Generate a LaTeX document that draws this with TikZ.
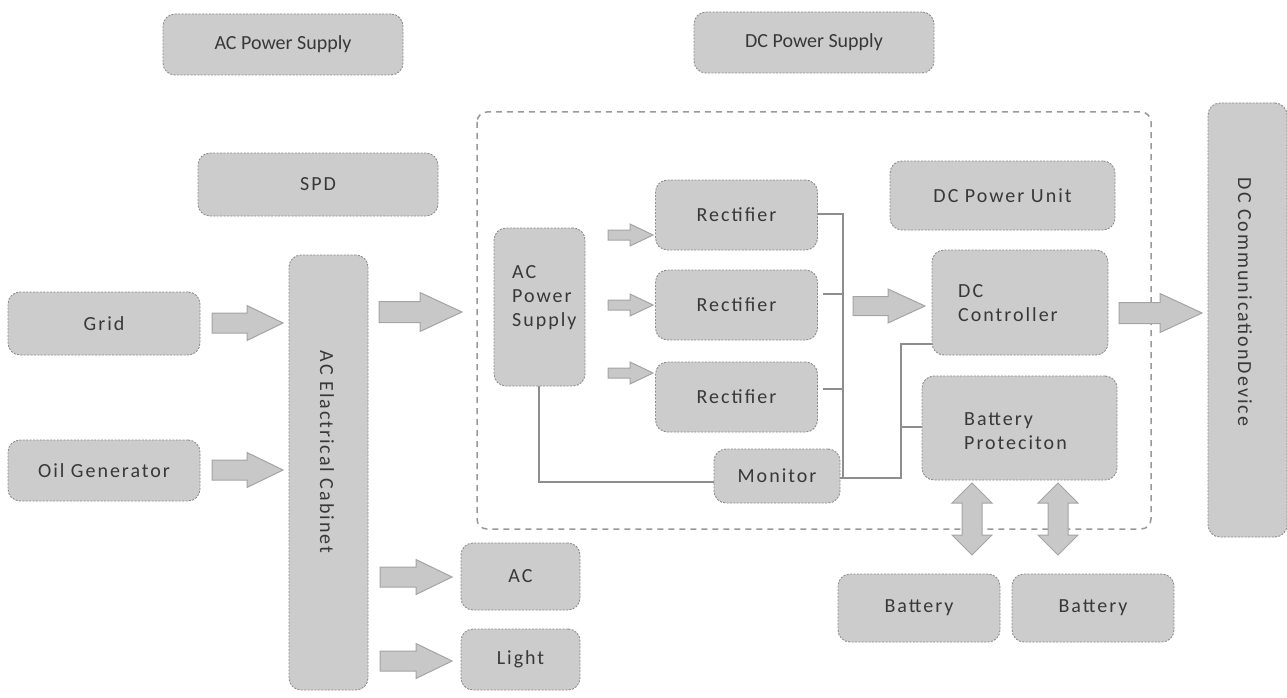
\documentclass[tikz,border=0pt]{standalone}
\usepackage{fontspec}
\setmainfont{Carlito}
\newfontfamily\spaced[LetterSpace=10]{Carlito}
\usetikzlibrary{calc}
\definecolor{boxfill}{HTML}{CCCCCC}
\definecolor{boxline}{HTML}{8C8C8C}
\definecolor{arrfill}{HTML}{C8C8C8}
\definecolor{arrline}{HTML}{A4A4A4}
\definecolor{txt}{HTML}{383838}
\definecolor{conncol}{HTML}{8E8E8E}
\definecolor{framecol}{HTML}{999999}
\tikzset{
  box/.style={rounded corners=12pt, fill=boxfill, draw=boxline, dash pattern=on 2pt off 1.4pt,
    line width=0.9pt, inner sep=0pt, text=txt, font=\spaced\fontsize{20}{24}\selectfont},
  tightbox/.style={box, font=\fontsize{20}{24}\selectfont},
  lbl/.style={inner sep=0pt, text=txt, font=\spaced\fontsize{20}{24}\selectfont},
  frame/.style={draw=framecol, line width=1.5pt, dash pattern=on 6pt off 5pt, rounded corners=10pt},
  conn/.style={draw=conncol, line width=1.3pt},
  blk/.style={fill=arrfill, draw=arrline, line width=1pt, line join=miter},
}
% horizontal block arrow: x1, x2, y, head length, shaft half width, head half width
\newcommand\harrow[6]{\draw[blk] (#1,{#3-#5}) -- ({#2-#4},{#3-#5}) -- ({#2-#4},{#3-#6}) -- (#2,#3)
  -- ({#2-#4},{#3+#6}) -- ({#2-#4},{#3+#5}) -- (#1,{#3+#5}) -- cycle;}
% vertical double block arrow: x, y1, y2, head length, shaft half width, head half width
\newcommand\vdarrow[6]{\draw[blk] (#1,#2) -- ({#1+#6},{#2+#4}) -- ({#1+#5},{#2+#4}) -- ({#1+#5},{#3-#4})
  -- ({#1+#6},{#3-#4}) -- (#1,#3) -- ({#1-#6},{#3-#4}) -- ({#1-#5},{#3-#4}) -- ({#1-#5},{#2+#4})
  -- ({#1-#6},{#2+#4}) -- cycle;}
\begin{document}
\begin{tikzpicture}[x=1pt,y=-1pt]
\useasboundingbox (0,0) rectangle (1287,698);
% dashed frame
\draw[frame] (477,112) rectangle (1151,529);
% boxes
\node[tightbox, minimum width=240pt, minimum height=61pt] (acpsT) at (283,44.5) {AC Power Supply};
\node[tightbox, minimum width=240pt, minimum height=61pt] (dcpsT) at (814,42.5) {DC Power Supply};
\node[box, minimum width=240pt, minimum height=63pt] (spd) at (318,184.5) {SPD};
\node[box, minimum width=192pt, minimum height=63pt] (grid) at (104,323.5) {Grid};
\node[box, minimum width=192pt, minimum height=61pt] (oil) at (104,470.5) {Oil Generator};
\node[box, minimum width=79pt, minimum height=435pt] (cab) at (328.5,472.5) {};
\node[lbl, rotate=-90] (cabT) at (327,452) {AC Elactrical Cabinet};
\node[box, minimum width=119pt, minimum height=67pt] (ac) at (520.5,576.5) {AC};
\node[box, minimum width=119pt, minimum height=61pt] (light) at (520.5,659.5) {Light};
\node[box, minimum width=91pt, minimum height=158pt] (acin) at (539.5,307) {};
\node[lbl, align=left, anchor=west] (acinT) at (512,298) {AC\\Power\\Supply};
\node[box, minimum width=162pt, minimum height=70pt] (r1) at (736.5,215) {Rectifier};
\node[box, minimum width=162pt, minimum height=70pt] (r2) at (736.5,305) {Rectifier};
\node[box, minimum width=162pt, minimum height=70pt] (r3) at (736.5,397) {Rectifier};
\node[box, minimum width=126pt, minimum height=54pt] (mon) at (777,476) {Monitor};
\node[box, minimum width=225pt, minimum height=69pt] (dcpu) at (1002.5,195.5) {DC Power Unit};
\node[box, minimum width=176pt, minimum height=105pt] (dcc) at (1020,302.5) {};
\node[lbl, align=left, anchor=west] (dccT) at (958,303) {DC\\Controller};
\node[box, minimum width=195pt, minimum height=104pt] (bp) at (1019.5,428) {};
\node[lbl, align=left, anchor=west] (bpT) at (964,431) {Battery\\Proteciton};
\node[box, minimum width=79pt, minimum height=434pt] (dccomm) at (1247.5,320) {};
\node[lbl, rotate=-90] (dccommT) at (1245,302) {DC CommunicationDevice};
\node[box, minimum width=162pt, minimum height=68pt] (bat1) at (919,608) {Battery};
\node[box, minimum width=162pt, minimum height=68pt] (bat2) at (1093,608) {Battery};
% connectors
\coordinate (busT) at (843,214);
\coordinate (busB) at (843,478);
\coordinate (jn) at (901,478);
\draw[conn] (r1.east |- busT) -- (busT) -- (busB) -- (jn) -- (jn |- 0,344) -- (dcc.west |- 0,344);
\draw[conn] ($(r2.east)+(5,-11)$) -- ($(r2.east -| busT)+(0,-11)$);
\draw[conn] ($(r3.east)+(5,-8)$) -- ($(r3.east -| busT)+(0,-8)$);
\draw[conn] (mon.east |- busB) -- (busB);
\draw[conn] (jn |- 0,427) -- (bp.west |- 0,427);
\draw[conn] (acin.south -| 539,0) -- (539,482) -- (mon.west |- 0,482);
% block arrows
\harrow{212}{283}{323}{36}{10}{17.5}
\harrow{212}{283}{470}{36}{10}{17.5}
\harrow{379}{462}{312}{42}{10.5}{19.5}
\harrow{380}{452}{577}{36}{10}{17.5}
\harrow{380}{452}{661}{36}{10}{17.5}
\harrow{608}{653}{235}{23}{5}{11}
\harrow{608}{653}{305}{23}{5}{11}
\harrow{608}{653}{373}{23}{5}{11}
\harrow{853}{925}{306}{37}{9.5}{17}
\harrow{1119}{1202}{313}{42}{10.5}{19.5}
\vdarrow{972}{483}{555}{20}{10}{20}
\vdarrow{1058}{483}{555}{20}{10}{20}
\end{tikzpicture}
\end{document}
